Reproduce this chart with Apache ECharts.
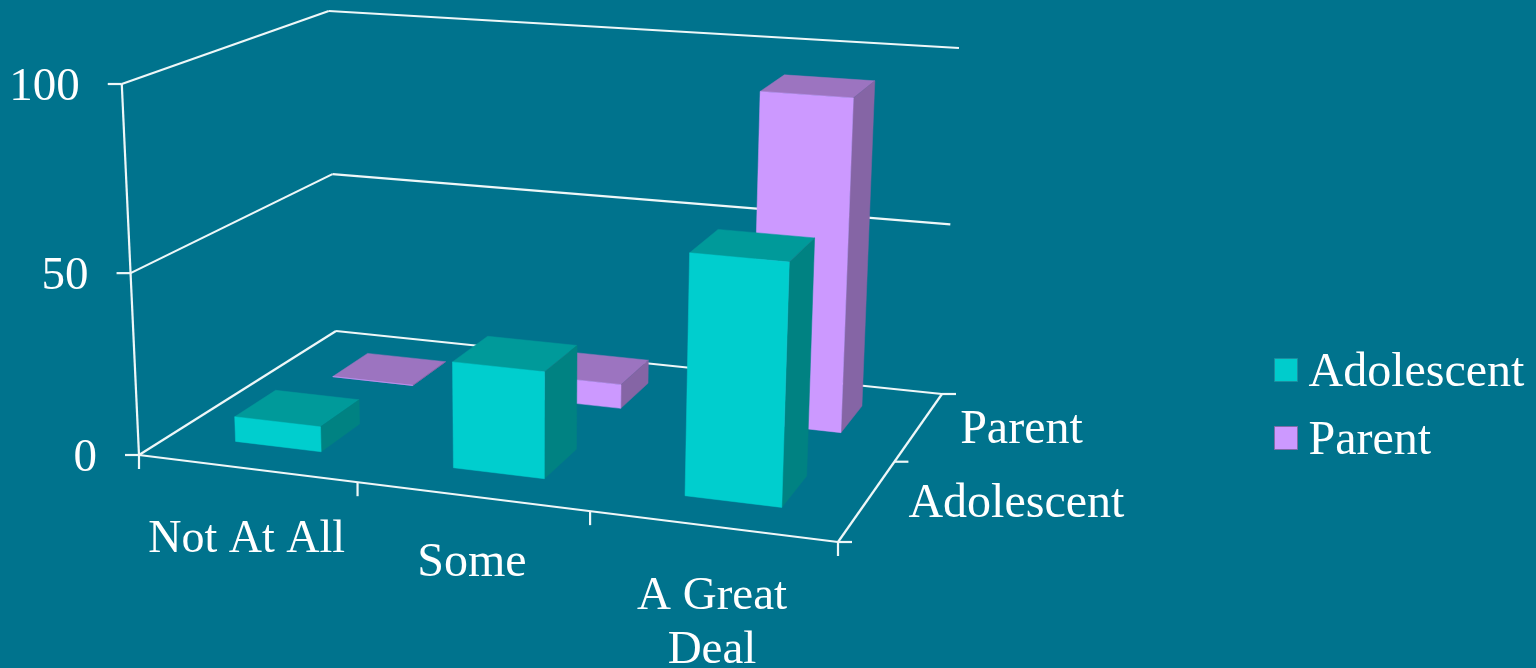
<!DOCTYPE html>
<html>
<head>
<meta charset="utf-8">
<style>html,body{margin:0;padding:0;background:#00738D}#c{width:1536px;height:668px}</style>
<script src="https://cdn.jsdelivr.net/npm/echarts@6/dist/echarts.min.js"></script>
</head>
<body>
<div id="c"></div>
<script>
var categories = ['Not At All', 'Some', 'A Great\nDeal'];
var depthLabels = ['Adolescent', 'Parent'];
var valueTicks = [0, 50, 100];
var adolescent = [7, 29, 64];
var parent = [0, 7, 93];

var FONT = '"Liberation Serif","Times New Roman",serif';
var FS = 48, LINE = '#EEF7F8', LW = 2.2;
var catLabelDy = [0, -5, -2];
var catLabelFs = [46, 48, 47];

// Perspective frame: floor and z=100 plane corners (front-left, front-right, back-right, back-left)
function homography(q) {
  var x0=q[0][0],y0=q[0][1],x1=q[1][0],y1=q[1][1],x2=q[2][0],y2=q[2][1],x3=q[3][0],y3=q[3][1];
  var dx1=x1-x2,dx2=x3-x2,sx=x0-x1+x2-x3,dy1=y1-y2,dy2=y3-y2,sy=y0-y1+y2-y3;
  var den=dx1*dy2-dx2*dy1,g=(sx*dy2-dx2*sy)/den,h=(dx1*sy-sx*dy1)/den;
  var a=x1-x0+g*x1,b=x3-x0+h*x3,d=y1-y0+g*y1,e=y3-y0+h*y3;
  return function(u,v){var w=g*u+h*v+1;return [(a*u+b*v+x0)/w,(d*u+e*v+y0)/w];};
}
var floorH = homography([[139,455],[838,542],[942,394],[336,331]]);
var topH = homography([[123,84],[854,141],[958,48],[330,11]]);
var VP = [528, 8830]; // vanishing point of the vertical edges
function project(u,d,z){
  var f=floorH(u,d),t=topH(u,d);
  var zz=z/(z+(1-z)*1.04);            // foreshortening of the height
  var y=f[1]+(t[1]-f[1])*zz;
  var x=VP[0]+(f[0]-VP[0])*(VP[1]-y)/(VP[1]-f[1]);
  return [x,y];
}
// Normalised position from the chart's own (hidden) category and value scales
function norm(api,params,cat,val){
  var p=api.coord([cat,val]),c=params.coordSys;
  return {u:(p[0]-c.x)/c.width,z:(c.y+c.height-p[1])/c.height};
}
function poly(points,color){
  return {type:'polygon',shape:{points:points},style:{fill:color,stroke:color,lineWidth:0.5},silent:true};
}
function seg(a,b){
  return {type:'line',shape:{x1:a[0],y1:a[1],x2:b[0],y2:b[1]},style:{stroke:LINE,lineWidth:LW,fill:null},silent:true};
}
function label(txt,x,y,align,vAlign,size){
  return {type:'text',style:{text:txt,x:x,y:y,align:align,verticalAlign:vAlign,fill:'#fff',font:(size||FS)+'px '+FONT,lineHeight:54},silent:true};
}
function barRenderer(depthIdx,colors){
  return function(params,api){
    var cat=api.value(0),val=api.value(1);
    var n=norm(api,params,cat,val),n0=norm(api,params,cat,0);
    var halfU=0.4/categories.length/2,halfD=0.4/depthLabels.length/2,cd=(depthIdx+0.5)/depthLabels.length;
    var u0=n.u-halfU,u1=n.u+halfU,d0=cd-halfD,d1=cd+halfD,zb=n0.z,zt=n.z;
    var fbl=project(u0,d0,zb),fbr=project(u1,d0,zb),ftl=project(u0,d0,zt),ftr=project(u1,d0,zt);
    var bbr=project(u1,d1,zb),btl=project(u0,d1,zt),btr=project(u1,d1,zt);
    return {type:'group',children:[
      poly([ftl,ftr,btr,btl],colors.top),
      poly([ftr,btr,bbr,fbr],colors.side),
      poly([fbl,fbr,ftr,ftl],colors.front)
    ]};
  };
}
function frameRenderer(params,api){
  var ch=[],i;
  var fl=function(z){return project(0,0,z);},bl=function(z){return project(0,1,z);},br=function(z){return project(1,1,z);};
  valueTicks.forEach(function(v){
    var z=norm(api,params,0,v).z,a=fl(z);
    ch.push(seg([a[0]-14,a[1]],a));
    ch.push(label(String(v),a[0]-42,a[1]+4,'right','middle',47));
    if(z>0){ch.push(seg(a,bl(z)));ch.push(seg(bl(z),br(z)));}
  });
  ch.push(seg(fl(0),fl(1)));
  ch.push(seg(project(0,0,0),project(1,0,0)));
  ch.push(seg(project(1,0,0),project(1,1,0)));
  ch.push(seg(project(0,1,0),project(1,1,0)));
  ch.push(seg(project(0,0,0),project(0,1,0)));
  // category ticks & labels
  var n=categories.length;
  for(i=0;i<=n;i++){var p=project(i/n,0,0);ch.push(seg(p,[p[0],p[1]+14]));}
  categories.forEach(function(c,k){
    var u=norm(api,params,k,0).u,p=project(u,0,0);
    ch.push(label(c,p[0],p[1]+45+catLabelDy[k],'center','top',catLabelFs[k]));
  });
  // depth ticks & labels
  var m=depthLabels.length;
  for(i=0;i<=m;i++){var q=project(1,i/m,0);ch.push(seg(q,[q[0]+14,q[1]]));}
  depthLabels.forEach(function(c,k){
    var q=project(1,(k+0.5)/m,0);
    ch.push(label(c,q[0]+41,q[1]+4,'left','middle'));
  });
  return {type:'group',children:ch};
}
function toData(a){return a.map(function(v,i){return [i,v];});}

var chart=echarts.init(document.getElementById('c'),null,{renderer:'canvas'});
chart.setOption({
  animation:false,
  backgroundColor:'#00738D',
  tooltip:{show:false},
  grid:{left:139,top:84,width:699,height:371},
  xAxis:{type:'category',data:categories,show:false},
  yAxis:{type:'value',min:0,max:100,interval:50,show:false},
  legend:{
    orient:'vertical',left:1269,top:338,itemWidth:23,itemHeight:23,itemGap:14,icon:'rect',selectedMode:false,
    data:[
      {name:'Adolescent',itemStyle:{borderColor:'#1A8FA0',borderWidth:1}},
      {name:'Parent',itemStyle:{borderColor:'#7E6CA8',borderWidth:1}}
    ],
    formatter:'{t|{name}}',
    textStyle:{color:'#fff',rich:{t:{color:'#fff',fontFamily:FONT,fontSize:FS,lineHeight:48,padding:[6,0,0,6]}}}
  },
  series:[
    {name:'frame',type:'custom',coordinateSystem:'cartesian2d',z:1,data:[[0,0]],renderItem:frameRenderer,silent:true,clip:false},
    {name:'Parent',type:'custom',coordinateSystem:'cartesian2d',z:2,data:toData(parent),
     itemStyle:{color:'#CC99FF'},encode:{x:0,y:1},clip:false,
     renderItem:barRenderer(1,{front:'#CC99FF',top:'#9C74C0',side:'#8565A5'})},
    {name:'Adolescent',type:'custom',coordinateSystem:'cartesian2d',z:3,data:toData(adolescent),
     itemStyle:{color:'#00CCCC'},encode:{x:0,y:1},clip:false,
     renderItem:barRenderer(0,{front:'#00CECE',top:'#009A9A',side:'#008282'})}
  ]
});
</script>
</body>
</html>
